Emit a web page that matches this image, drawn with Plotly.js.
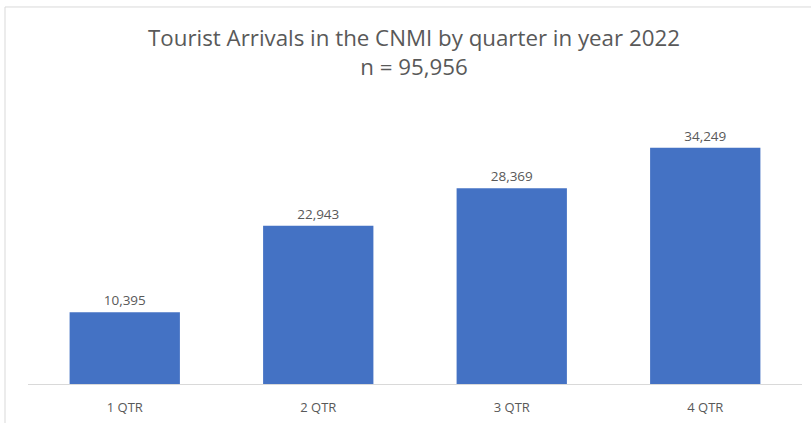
<!DOCTYPE html>
<html>
<head>
<meta charset="utf-8">
<script src="https://cdn.plot.ly/plotly-3.0.1.min.js"></script>
<style>html,body{margin:0;padding:0;background:#fff;}#chart{width:811px;height:423px;}</style>
</head>
<body>
<div id="chart"></div>
<script>
const categories = ["1 QTR", "2 QTR", "3 QTR", "4 QTR"];
const arrivals = [10395, 22943, 28369, 34249];
const titleLines = ["Tourist Arrivals in the CNMI by quarter in year 2022", "n = 95,956"];

const font = "Open Sans, Liberation Sans, Arial, sans-serif";
Plotly.newPlot("chart", [{
  type: "bar",
  x: categories,
  y: arrivals,
  marker: {color: "#4472C4"},
  texttemplate: "%{y:,}",
  textposition: "outside",
  cliponaxis: false,
  textfont: {family: font, size: 13.5, color: "#595959"},
  hoverinfo: "skip"
}], {
  width: 811, height: 423,
  margin: {l: 28, r: 9, t: 108, b: 39},
  paper_bgcolor: "#fff", plot_bgcolor: "#fff",
  bargap: 0.43,
  showlegend: false,
  title: {text: titleLines.join("<br>"), font: {family: font, size: 22.3, color: "#595959"}, x: 0.5105, xanchor: "center", yref: "container", y: 0.891, yanchor: "top"},
  xaxis: {showline: true, linecolor: "#d9d9d9", linewidth: 1, ticks: "", ticklabelstandoff: 11, tickfont: {family: font, size: 13, color: "#595959"}, fixedrange: true},
  yaxis: {range: [0, 40000], visible: false, showgrid: false, zeroline: false, fixedrange: true},
  shapes: [{type: "rect", xref: "paper", yref: "paper", x0: -0.0297, x1: 1.2, y0: -0.3, y1: 1.366, line: {color: "#d9d9d9", width: 1}, fillcolor: "rgba(0,0,0,0)", layer: "below"}]
}, {staticPlot: true});
</script>
</body>
</html>
